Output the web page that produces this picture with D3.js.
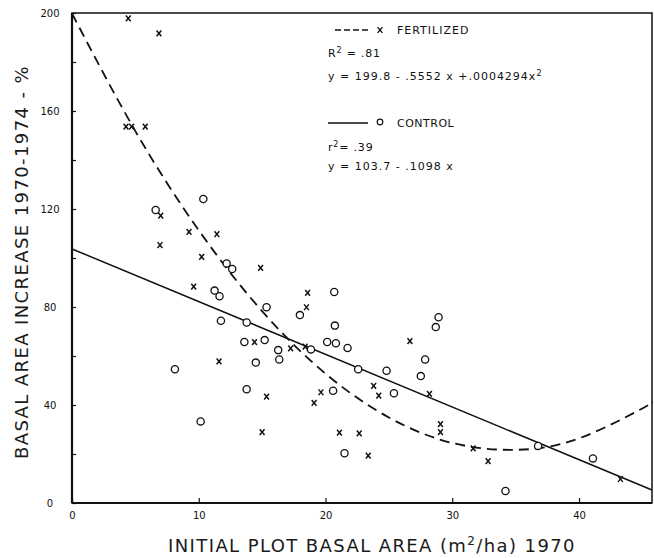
<!DOCTYPE html>
<html><head><meta charset="utf-8">
<script src="https://cdn.jsdelivr.net/npm/d3@7/dist/d3.min.js"></script>
<style>body{margin:0;background:#fff}svg{display:block}text{font-family:"DejaVu Sans",sans-serif;fill:#111}</style>
</head><body><svg id="c" width="654" height="558"></svg>
<script>
// fertilized plots (x markers)
const fertX = [4.44,6.86,4.26,4.7,5.78,7.0,9.23,11.43,6.94,10.23,14.88,9.6,14.4,18.59,18.5,26.66,17.25,18.4,15.35,19.64,19.1,23.8,24.2,28.2,15.0,21.1,22.66,23.37,29.07,29.07,31.65,32.83,43.27,11.6];
const fertY = [197.8,191.7,153.6,153.6,153.6,117.3,110.7,109.7,105.3,100.5,96.0,88.3,65.7,85.8,79.9,66.1,63.1,63.8,43.4,45.2,40.9,47.8,43.8,44.5,28.9,28.7,28.4,19.3,32.2,28.9,22.3,17.1,9.8,57.8];
// control plots (o markers)
const ctrlX = [10.36,6.6,12.2,12.64,11.25,11.64,15.35,11.75,13.78,13.6,15.2,20.69,17.98,28.92,28.7,20.74,16.27,18.85,20.13,20.82,21.74,14.5,16.35,22.58,24.82,27.86,27.52,20.6,25.4,21.5,34.2,36.77,41.1,8.12,13.78,10.15];
const ctrlY = [124.1,119.6,97.8,95.5,86.7,84.4,79.9,74.4,73.7,65.7,66.5,86.1,76.7,75.8,71.8,72.4,62.4,62.7,65.7,65.2,63.3,57.3,58.6,54.6,54.0,58.6,51.8,45.8,44.8,20.3,4.9,23.3,18.2,54.6,46.4,33.3];
// fitted curves
const fertCurveX = [0,5,10,15,20,25,30,35,40,45,45.76];
const fertCurveY = [199.8,151.8,111.3,78.3,52.8,34.9,24.5,21.7,26.4,38.6,41.0];
const ctrlLineX = [0,45.76];
const ctrlLineY = [103.7,5.3];
const xTicks = [0,10,20,30,40];
const yTicks = [0,20,40,60,80,100,120,140,160,180,200];
const yLabelTicks = [0,40,80,120,160,200];

const svg = d3.select("#c");
const L=72,R=652,T=13,B=503;
const x = d3.scaleLinear().domain([0,45.76]).range([L,R]);
const y = d3.scaleLinear().domain([0,200]).range([B,T]);

// axes
const gx = svg.append("g").attr("transform",`translate(0,${B})`)
  .call(d3.axisBottom(x).tickValues(xTicks).tickSize(-5).tickPadding(9).tickFormat(d3.format("d")));
gx.select(".domain").remove();
gx.selectAll("text").attr("font-size",10).attr("font-family","DejaVu Sans");
gx.selectAll("line").attr("stroke","#111").attr("stroke-width",1.2);

const gy = svg.append("g").attr("transform",`translate(${L},0)`)
  .call(d3.axisLeft(y).tickValues(yTicks).tickSize(-4).tickFormat(d=>yLabelTicks.includes(d)?d:""));
gy.select(".domain").remove();
gy.selectAll("text").attr("font-size",10).attr("font-family","DejaVu Sans").attr("text-anchor","middle").attr("x",-22);
gy.selectAll("line").attr("stroke","#111").attr("stroke-width",1.2);

// frame
svg.append("rect").attr("x",L).attr("y",T).attr("width",R-L).attr("height",B-T)
  .attr("fill","none").attr("stroke","#111").attr("stroke-width",1.5);
svg.append("line").attr("x1",L).attr("x2",L).attr("y1",T).attr("y2",B).attr("stroke","#111").attr("stroke-width",2.2);
svg.append("line").attr("x1",L).attr("x2",R).attr("y1",B).attr("y2",B).attr("stroke","#111").attr("stroke-width",2.2);

// curves
const fertPts = fertCurveX.map((d,i)=>[d,fertCurveY[i]]);
svg.append("path").attr("d",d3.line().x(d=>x(d[0])).y(d=>y(d[1])).curve(d3.curveNatural)(fertPts))
  .attr("fill","none").attr("stroke","#111").attr("stroke-width",1.8).attr("stroke-dasharray","10,6");
const ctrlPts = ctrlLineX.map((d,i)=>[d,ctrlLineY[i]]);
svg.append("path").attr("d",d3.line().x(d=>x(d[0])).y(d=>y(d[1]))(ctrlPts))
  .attr("fill","none").attr("stroke","#111").attr("stroke-width",1.5);

// markers
const xm = (cx,cy,s)=>`M${cx-s},${cy-s*1.2}L${cx+s},${cy+s*1.2}M${cx+s},${cy-s*1.2}L${cx-s},${cy+s*1.2}`;
svg.append("g").selectAll("path").data(fertX.map((d,i)=>[d,fertY[i]])).join("path")
  .attr("d",d=>xm(x(d[0]),y(d[1]),2.4)).attr("stroke","#111").attr("stroke-width",1.5).attr("fill","none");
svg.append("g").selectAll("circle").data(ctrlX.map((d,i)=>[d,ctrlY[i]])).join("circle")
  .attr("cx",d=>x(d[0])).attr("cy",d=>y(d[1])).attr("r",3.6)
  .attr("fill","#fff").attr("stroke","#111").attr("stroke-width",1.3);

// legend
const lg = svg.append("g");
lg.append("line").attr("x1",335).attr("x2",368).attr("y1",30).attr("y2",30).attr("stroke","#111").attr("stroke-width",1.6).attr("stroke-dasharray","6,3");
lg.append("path").attr("d",xm(380,30,2.4)).attr("stroke","#111").attr("stroke-width",1.4);
lg.append("text").attr("x",397).attr("y",34).attr("font-size",11).attr("letter-spacing",1).text("FERTILIZED");
const t1 = lg.append("text").attr("x",328).attr("y",57).attr("font-size",11).attr("letter-spacing",0.8);
t1.append("tspan").text("R");
t1.append("tspan").attr("font-size",8).attr("dy",-4).text("2");
t1.append("tspan").attr("dy",4).text(" = .81");
const t2 = lg.append("text").attr("x",328).attr("y",80).attr("font-size",11).attr("letter-spacing",1);
t2.append("tspan").text("y = 199.8 - .5552 x +.0004294x");
t2.append("tspan").attr("font-size",8).attr("dy",-4).text("2");
lg.append("line").attr("x1",328).attr("x2",368).attr("y1",123).attr("y2",123).attr("stroke","#111").attr("stroke-width",1.4);
lg.append("circle").attr("cx",380).attr("cy",122).attr("r",2.8).attr("fill","none").attr("stroke","#111").attr("stroke-width",1.2);
lg.append("text").attr("x",397).attr("y",127).attr("font-size",11).attr("letter-spacing",0.5).text("CONTROL");
const t3 = lg.append("text").attr("x",328).attr("y",151).attr("font-size",11).attr("letter-spacing",0.8);
t3.append("tspan").text("r");
t3.append("tspan").attr("font-size",8).attr("dy",-4).text("2");
t3.append("tspan").attr("dy",4).text("= .39");
lg.append("text").attr("x",328).attr("y",170).attr("font-size",11).attr("letter-spacing",1).text("y = 103.7 - .1098 x");

// axis titles
const xt = svg.append("text").attr("x",372).attr("y",552).attr("text-anchor","middle").attr("font-size",18).attr("letter-spacing",1.4).style("fill","#1a1a1a");
xt.append("tspan").text("INITIAL PLOT  BASAL AREA (m");
xt.append("tspan").attr("font-size",12).attr("dy",-7).text("2");
xt.append("tspan").attr("dy",7).text("/ha)  1970");
svg.append("text").attr("transform","translate(28,262) rotate(-90)").attr("text-anchor","middle")
  .attr("font-size",18).attr("letter-spacing",1.4).style("fill","#1a1a1a").text("BASAL AREA INCREASE 1970-1974 - %");
</script></body></html>
